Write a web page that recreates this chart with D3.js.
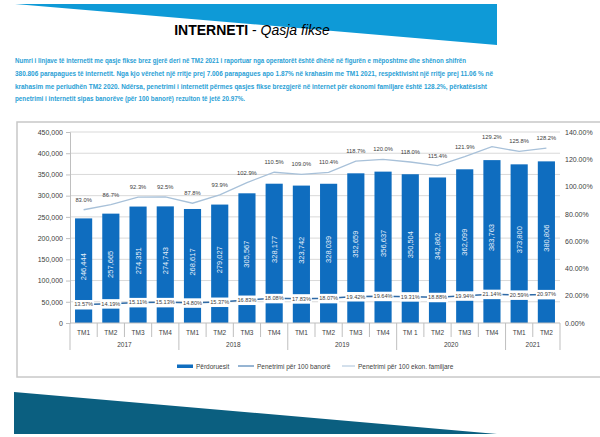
<!DOCTYPE html>
<html><head><meta charset="utf-8">
<script src="https://cdn.jsdelivr.net/npm/d3@7"></script>
<style>
html,body{margin:0;padding:0;background:#fff;}
svg{display:block;}
text{font-family:"Liberation Sans",Arial,sans-serif;}
</style></head>
<body>
<svg id="c" width="600" height="437"></svg>
<script>
const quarters = ["TM1","TM2","TM3","TM4","TM1","TM2","TM3","TM4","TM1","TM2","TM3","TM4","TM 1","TM2","TM3","TM4","TM1","TM2"];
const years = ["2017","2018","2019","2020","2021"];
const yearSpans = [4,4,4,4,2];
const users = [246444,257665,274351,274743,268617,279027,305567,328177,323742,328039,352659,356637,350504,342862,362099,383763,373800,380806];
const perInhabitants = [13.57,14.19,15.11,15.13,14.80,15.37,16.83,18.08,17.83,18.07,19.42,19.64,19.31,18.88,19.94,21.14,20.59,20.97];
const perHouseholds = [83.0,86.7,92.3,92.5,87.8,93.9,102.9,110.5,109.0,110.4,118.7,120.0,118.0,115.4,121.9,129.2,125.8,128.2];
const leftTicks = [0,50000,100000,150000,200000,250000,300000,350000,400000,450000];
const rightTicks = [0,20,40,60,80,100,120,140];
const paragraph = [
 "Numri i linjave të internetit me qasje fikse brez gjerë deri në TM2  2021 i raportuar nga operatorët është dhënë në figurën e mëposhtme dhe shënon shifrën",
 "380.806 parapagues të internetit. Nga kjo vërehet  një rritje prej  7.006 parapagues  apo  1.87% në krahasim me TM1 2021, respektivisht një rritje  prej 11.06 % në",
 "krahasim me periudhën TM2 2020. Ndërsa, penetrimi i internetit përmes qasjes fikse brezgjerë në internet për ekonomi familjare  është 128.2%, përkatësisht",
 "penetrimi i internetit sipas banorëve (për 100 banorë) rezulton të jetë 20.97%."
];
const paraWidths = [451,478,472,230];
const legendLabels = ["Përdoruesit","Penetrimi për 100 banorë","Penetrimi për 100 ekon. familjare"];

const svg = d3.select("#c");
const BAR = "#0f6dbf", LINE1 = "#2f6aa6", LINE2 = "#a8c1d9", GRID = "#d9d9d9", TXT = "#404040";

// banners
svg.append("polygon").attr("points","15,4 497,4 497,45").attr("fill","#0e9ad7");
svg.append("polygon").attr("points","14,392 14,434 497,434").attr("fill","#0b5f80");

// title
const t = svg.append("text").attr("x",252).attr("y",35).attr("text-anchor","middle").attr("font-size",14).attr("fill","#000");
t.append("tspan").attr("font-weight","bold").text("INTERNETI");
t.append("tspan").text(" - ");
t.append("tspan").attr("font-style","italic").text("Qasja fikse");

// paragraph
const pY = [63,76,88.5,101];
paragraph.forEach((s,i)=>{
  svg.append("text").attr("x",15).attr("y",pY[i]).attr("font-size",7.3).attr("font-weight","bold")
    .attr("fill","#2a9fd6").attr("textLength",paraWidths[i]).attr("lengthAdjust","spacingAndGlyphs").text(s);
});

// frame
svg.append("rect").attr("x",17).attr("y",122).attr("width",600).attr("height",255)
  .attr("fill","none").attr("stroke","#c8c8c8").attr("stroke-width",1.5);

const x = d3.scaleBand().domain(d3.range(users.length)).range([70,560]).paddingInner(0.37).paddingOuter(0.185);
const yL = d3.scaleLinear().domain([0,450000]).range([323,132]);
const yR = d3.scaleLinear().domain([0,140]).range([323,132]);
const cx = i => x(i) + x.bandwidth()/2;

// gridlines
svg.append("g").selectAll("line").data(leftTicks.slice(1)).join("line")
  .attr("x1",70).attr("x2",560).attr("y1",d=>yL(d)).attr("y2",d=>yL(d))
  .attr("stroke",GRID).attr("stroke-width",1);

// left axis
const gl = svg.append("g").attr("transform","translate(70,0)")
  .call(d3.axisLeft(yL).tickValues(leftTicks).tickFormat(d3.format(",")).tickSize(4).tickPadding(3));
gl.select(".domain").attr("stroke","#bfbfbf");
gl.selectAll(".tick line").attr("stroke","#bfbfbf");
gl.selectAll("text").attr("font-size",7).attr("fill",TXT).attr("font-family","Liberation Sans, Arial, sans-serif");

// right axis
const gr = svg.append("g").attr("transform","translate(560,0)")
  .call(d3.axisRight(yR).tickValues(rightTicks).tickFormat(d=>d.toFixed(2)+"%").tickSize(0).tickPadding(5));
gr.select(".domain").remove();
gr.selectAll("text").attr("font-size",7).attr("fill",TXT).attr("font-family","Liberation Sans, Arial, sans-serif");

// bars
svg.append("g").selectAll("rect").data(users).join("rect")
  .attr("x",(d,i)=>x(i)).attr("width",x.bandwidth())
  .attr("y",d=>yL(d)).attr("height",d=>yL(0)-yL(d)).attr("fill",BAR);

// bar labels
svg.append("g").selectAll("text").data(users).join("text")
  .attr("transform",(d,i)=>`translate(${cx(i)+2.5},${(yL(d)+yL(0))/2 - 4}) rotate(-90)`)
  .attr("text-anchor","middle").attr("font-size",7.5).attr("fill","#e8f0fa")
  .text(d=>d3.format(",")(d));

// x axis baseline
svg.append("line").attr("x1",70).attr("x2",560).attr("y1",323).attr("y2",323).attr("stroke","#bfbfbf");

// category ticks
const bounds = d3.range(users.length+1).map(i => i===users.length ? 560 : x(i) - x.step()*x.paddingInner()/2);
const yearStarts = [0]; yearSpans.reduce((a,s)=>{yearStarts.push(a+s); return a+s;},0);
svg.append("g").selectAll("line").data(bounds).join("line")
  .attr("x1",d=>d).attr("x2",d=>d).attr("y1",323)
  .attr("y2",(d,i)=> yearStarts.includes(i) ? 350 : 337)
  .attr("stroke","#bfbfbf");

svg.append("g").selectAll("text").data(quarters).join("text")
  .attr("x",(d,i)=>cx(i)).attr("y",335).attr("text-anchor","middle")
  .attr("font-size",6.5).attr("fill",TXT).text(d=>d);

svg.append("g").selectAll("text").data(years).join("text")
  .attr("x",(d,i)=>(bounds[yearStarts[i]]+bounds[yearStarts[i]+yearSpans[i]])/2).attr("y",347)
  .attr("text-anchor","middle").attr("font-size",6.5).attr("fill",TXT).text(d=>d);

// households line
const lineH = d3.line().x((d,i)=>cx(i)).y(d=>yR(d));
svg.append("path").datum(perHouseholds).attr("d",lineH).attr("fill","none").attr("stroke",LINE2).attr("stroke-width",1.3);
svg.append("g").selectAll("text").data(perHouseholds).join("text")
  .attr("x",(d,i)=>cx(i)).attr("y",d=>yR(d)-8).attr("text-anchor","middle")
  .attr("font-size",5.8).attr("fill",TXT).text(d=>d.toFixed(1)+"%");

// inhabitants line
svg.append("path").datum(perInhabitants).attr("d",lineH).attr("fill","none").attr("stroke",LINE1).attr("stroke-width",1.5);
const lab = svg.append("g").selectAll("g").data(perInhabitants).join("g")
  .attr("transform",(d,i)=>`translate(${cx(i)},${yR(d)})`);
lab.append("rect").attr("x",-10.5).attr("y",-4.5).attr("width",21).attr("height",9.5).attr("fill","#fff");
lab.append("text").attr("y",2).attr("text-anchor","middle").attr("font-size",5.6).attr("fill",TXT)
  .text(d=>d.toFixed(2)+"%");

// legend
const lg = svg.append("g");
lg.append("rect").attr("x",177).attr("y",364.5).attr("width",16).attr("height",3.5).attr("fill",BAR);
lg.append("text").attr("x",196).attr("y",368.5).attr("font-size",6.5).attr("fill",TXT).text(legendLabels[0]);
lg.append("line").attr("x1",238).attr("x2",254).attr("y1",366).attr("y2",366).attr("stroke",LINE1).attr("stroke-width",1);
lg.append("text").attr("x",257).attr("y",368.5).attr("font-size",6.5).attr("fill",TXT).text(legendLabels[1]);
lg.append("line").attr("x1",342).attr("x2",355).attr("y1",366).attr("y2",366).attr("stroke",LINE2).attr("stroke-width",1);
lg.append("text").attr("x",358).attr("y",368.5).attr("font-size",6.5).attr("fill",TXT).text(legendLabels[2]);
</script>
</body></html>
